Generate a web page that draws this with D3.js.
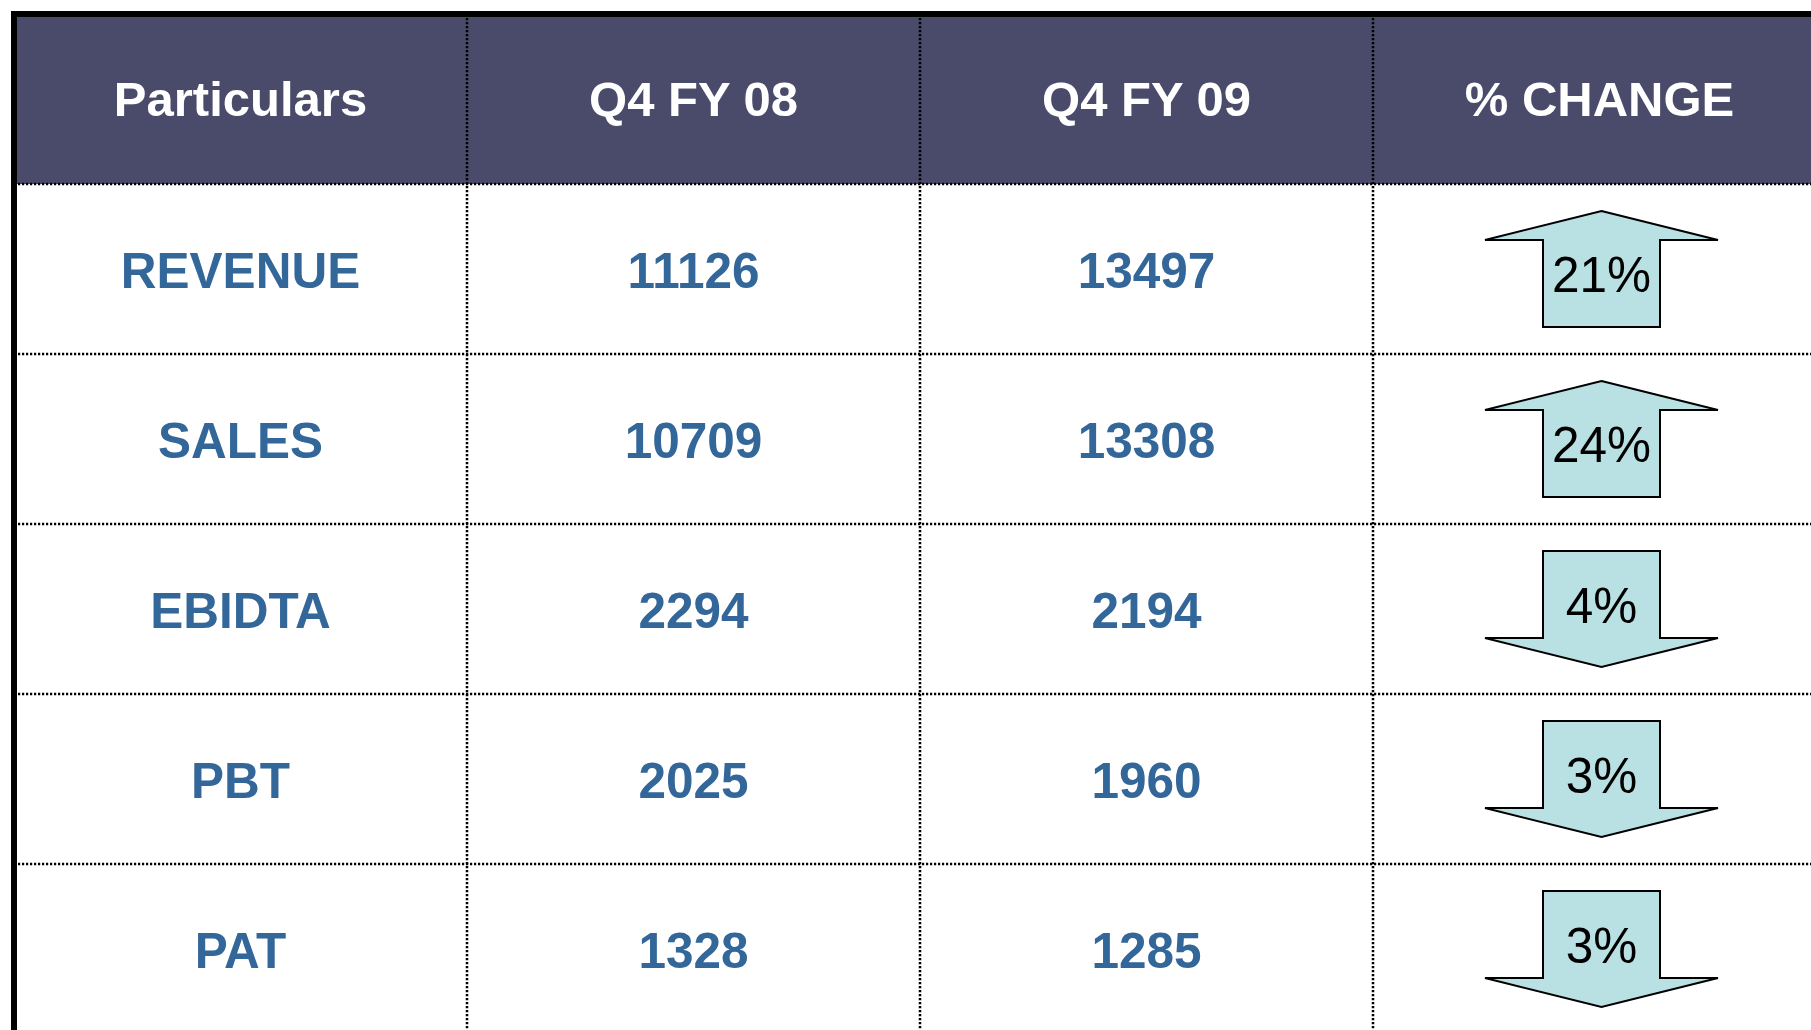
<!DOCTYPE html>
<html>
<head>
<meta charset="utf-8">
<script src="https://cdn.jsdelivr.net/npm/d3@7"></script>
<style>
  html, body { margin: 0; padding: 0; background: #fff; overflow: hidden; }
  svg { display: block; }
</style>
</head>
<body>
<div id="table-container"></div>
<script>
// table data
const headers = ["Particulars", "Q4 FY 08", "Q4 FY 09", "% CHANGE"];
const particulars = ["REVENUE", "SALES", "EBIDTA", "PBT", "PAT"];
const q4fy08 = [11126, 10709, 2294, 2025, 1328];
const q4fy09 = [13497, 13308, 2194, 1960, 1285];
const pctChange = [21, 24, 4, 3, 3];
const direction = ["up", "up", "down", "down", "down"];

const width = 1811;
const height = 1030;
const tableLeft = 14, tableTop = 14;
const colWidth = 453;
const rowHeight = 170;

const svg = d3.select("#table-container").append("svg")
    .attr("width", width)
    .attr("height", height);

// scales for columns / rows
const xScale = d3.scaleBand()
    .domain(headers)
    .range([tableLeft, tableLeft + colWidth * headers.length]);

const yScale = d3.scaleBand()
    .domain(["header"].concat(particulars))
    .range([tableTop, tableTop + rowHeight * (particulars.length + 1)]);

const tableRight = tableLeft + colWidth * headers.length;
const tableBottom = tableTop + rowHeight * (particulars.length + 1);

// header background
svg.append("rect")
    .attr("x", tableLeft)
    .attr("y", tableTop)
    .attr("width", tableRight - tableLeft)
    .attr("height", yScale.bandwidth())
    .attr("fill", "#4a4a6b");

// header labels
svg.append("g").selectAll("text")
    .data(headers)
    .enter().append("text")
    .attr("x", d => xScale(d) + xScale.bandwidth() / 2)
    .attr("y", yScale("header") + yScale.bandwidth() / 2)
    .attr("text-anchor", "middle")
    .attr("dominant-baseline", "central")
    .attr("font-family", "Liberation Sans, Arial, sans-serif")
    .attr("font-weight", "bold")
    .attr("font-size", 49)
    .attr("fill", "#ffffff")
    .text(d => d);

// dotted grid lines
const grid = svg.append("g")
    .attr("stroke", "#000")
    .attr("stroke-width", 2.5)
    .attr("stroke-dasharray", "2.2,1.8");

grid.selectAll(".hline")
    .data(particulars)
    .enter().append("line")
    .attr("class", "hline")
    .attr("x1", tableLeft)
    .attr("x2", tableRight)
    .attr("y1", d => yScale(d))
    .attr("y2", d => yScale(d));

grid.selectAll(".vline")
    .data(headers.slice(1))
    .enter().append("line")
    .attr("class", "vline")
    .attr("x1", d => xScale(d))
    .attr("x2", d => xScale(d))
    .attr("y1", tableTop)
    .attr("y2", tableBottom);

// body cells
const rows = particulars.map((p, i) => ({
  label: p, a: q4fy08[i], b: q4fy09[i], pct: pctChange[i], dir: direction[i]
}));

const rowG = svg.append("g").selectAll("g")
    .data(rows)
    .enter().append("g")
    .attr("transform", d => `translate(0, ${yScale(d.label) + yScale.bandwidth() / 2})`);

[["Particulars", d => d.label], ["Q4 FY 08", d => d.a], ["Q4 FY 09", d => d.b]].forEach(([col, fn]) => {
  rowG.append("text")
      .attr("x", xScale(col) + xScale.bandwidth() / 2)
      .attr("y", 1)
      .attr("text-anchor", "middle")
      .attr("dominant-baseline", "central")
      .attr("font-family", "Liberation Sans, Arial, sans-serif")
      .attr("font-weight", "bold")
      .attr("font-size", 49.5)
      .attr("fill", "#336699")
      .text(fn);
});

// arrows
const aw = 116.5, sw = 58.5, ah = 58, head = 29;
const cx = xScale("% CHANGE") + xScale.bandwidth() / 2 + 2;

function arrowPath(dir) {
  if (dir === "up") {
    return `M${cx},${-ah} L${cx + aw},${-ah + head} L${cx + sw},${-ah + head} L${cx + sw},${ah}
            L${cx - sw},${ah} L${cx - sw},${-ah + head} L${cx - aw},${-ah + head} Z`;
  }
  return `M${cx - sw},${-ah} L${cx + sw},${-ah} L${cx + sw},${ah - head} L${cx + aw},${ah - head}
          L${cx},${ah} L${cx - aw},${ah - head} L${cx - sw},${ah - head} Z`;
}

rowG.append("path")
    .attr("d", d => arrowPath(d.dir))
    .attr("fill", "#b9e0e3")
    .attr("stroke", "#000")
    .attr("stroke-width", 2)
    .attr("stroke-linejoin", "miter");

rowG.append("text")
    .attr("x", cx)
    .attr("y", d => d.dir === "up" ? 5 : -4)
    .attr("text-anchor", "middle")
    .attr("dominant-baseline", "central")
    .attr("font-family", "Liberation Sans, Arial, sans-serif")
    .attr("font-size", 49.5)
    .attr("fill", "#000")
    .text(d => d.pct + "%");

// thick outer border (top and left visible)
svg.append("rect")
    .attr("x", tableLeft)
    .attr("y", tableTop)
    .attr("width", tableRight - tableLeft)
    .attr("height", tableBottom - tableTop)
    .attr("fill", "none")
    .attr("stroke", "#000")
    .attr("stroke-width", 6);
</script>
</body>
</html>
